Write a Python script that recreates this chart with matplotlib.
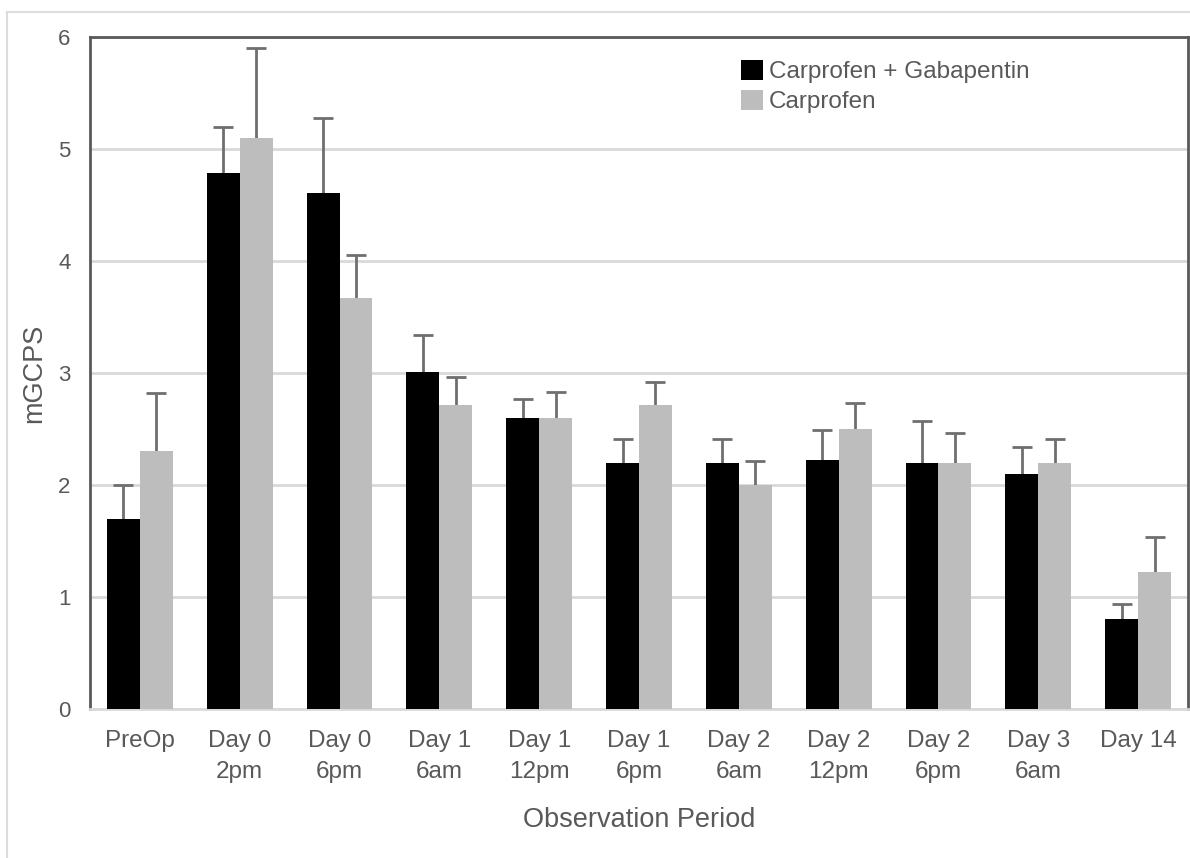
import matplotlib
matplotlib.use("Agg")
import matplotlib.pyplot as plt
import numpy as np
from matplotlib.patches import Rectangle, Patch

plt.rcParams['font.family'] = ['Liberation Sans', 'DejaVu Sans']

categories = ["PreOp", "Day 0\n2pm", "Day 0\n6pm", "Day 1\n6am", "Day 1\n12pm", "Day 1\n6pm",
              "Day 2\n6am", "Day 2\n12pm", "Day 2\n6pm", "Day 3\n6am", "Day 14"]
series_names = ["Carprofen + Gabapentin", "Carprofen"]
gaba_mean = [1.70, 4.79, 4.61, 3.01, 2.60, 2.20, 2.20, 2.22, 2.20, 2.10, 0.80]
gaba_err  = [0.30, 0.41, 0.67, 0.33, 0.17, 0.21, 0.21, 0.27, 0.37, 0.24, 0.14]
carp_mean = [2.30, 5.10, 3.67, 2.71, 2.60, 2.71, 2.00, 2.50, 2.20, 2.20, 1.22]
carp_err  = [0.52, 0.80, 0.38, 0.25, 0.23, 0.21, 0.21, 0.23, 0.26, 0.21, 0.32]
yticks = [0, 1, 2, 3, 4, 5, 6]

text_col = "#595959"
err_col = "#6f6f6f"

fig = plt.figure(figsize=(11.9, 8.58), dpi=100)
fig.patches.append(Rectangle((7/1190, -0.05), 1.2, (858-12)/858 + 0.05, transform=fig.transFigure,
                             fill=False, edgecolor="#dcdcdc", linewidth=1.5, zorder=0))
ax = fig.add_axes([90/1190, (858-709)/858, (1188-90)/1190, (709-37)/858])

x = np.arange(len(categories))
w = 0.33
ax.bar(x - w/2, gaba_mean, w, color="black", zorder=3, label=series_names[0])
ax.bar(x + w/2, carp_mean, w, color="#bdbdbd", zorder=3, label=series_names[1])
for off, mean, err in [(-w/2, gaba_mean, gaba_err), (w/2, carp_mean, carp_err)]:
    eb = ax.errorbar(x + off, mean, yerr=[np.zeros(len(x)), err], fmt="none",
                     ecolor=err_col, elinewidth=2, capsize=7, capthick=2, zorder=2)
    eb[1][0].set_visible(False)

ax.set_xlim(-0.5, len(categories) - 0.5)
ax.set_ylim(0, 6)
ax.set_yticks(yticks)
ax.set_xticks(x)
ax.set_xticklabels(categories, fontsize=17.5, color=text_col, linespacing=1.55)
ax.tick_params(axis="y", labelsize=16, labelcolor=text_col, length=0, pad=14)
ax.tick_params(axis="x", length=0, pad=15)
ax.yaxis.grid(True, color="#d9d9d9", linewidth=2, zorder=0)
ax.set_axisbelow(True)

for s in ["left", "top", "right"]:
    ax.spines[s].set_color("#595959")
    ax.spines[s].set_linewidth(2)
ax.spines["bottom"].set_color("#d9d9d9")
ax.spines["bottom"].set_linewidth(2)

ax.set_xlabel("Observation Period", fontsize=19.5, color=text_col, labelpad=17)
ax.set_ylabel("mGCPS", fontsize=19.5, color=text_col, labelpad=8)

handles = [Patch(facecolor="black"), Patch(facecolor="#bdbdbd")]
leg = ax.legend(handles, series_names, loc="upper left",
                bbox_to_anchor=((741-90)/1098, (709-60)/672), frameon=False,
                fontsize=17.5, handlelength=0.9, handleheight=0.9, handletextpad=0.25,
                labelspacing=0.25, borderpad=0, borderaxespad=0)
for t in leg.get_texts():
    t.set_color(text_col)

fig.savefig("out.png", dpi=100)
